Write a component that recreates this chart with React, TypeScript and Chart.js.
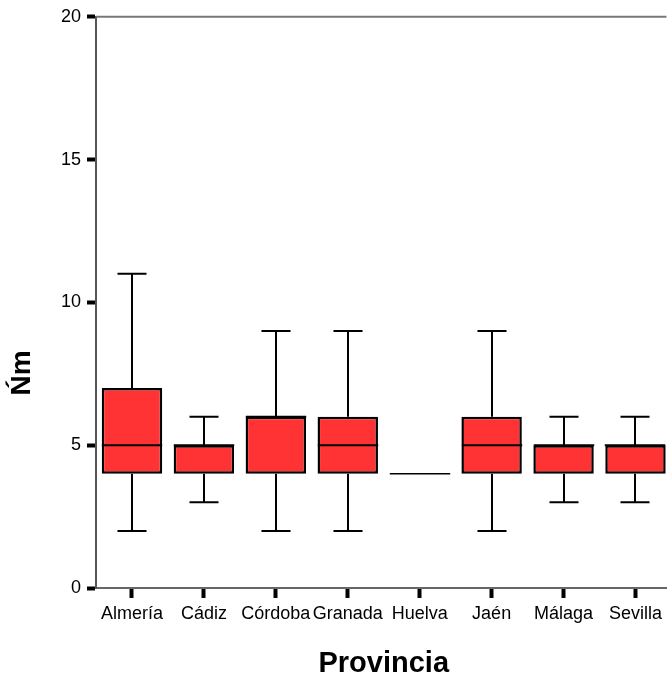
import React, { useEffect, useRef } from 'react';
import { Chart, registerables } from 'chart.js';

Chart.register(...registerables);

const provinces = ['Almería', 'Cádiz', 'Córdoba', 'Granada', 'Huelva', 'Jaén', 'Málaga', 'Sevilla'];
const whiskerLow = [2, 3, 2, 2, 4, 2, 3, 3];
const q1 = [4, 4, 4, 4, 4, 4, 4, 4];
const median = [5, 5, 6, 5, 4, 5, 5, 5];
const q3 = [7, 5, 6, 6, 4, 6, 5, 5];
const whiskerHigh = [11, 6, 9, 9, 4, 9, 6, 6];
const yTicks = [0, 5, 10, 15, 20];
const xTitle = 'Provincia';
const yTitle = 'Ńm';

const FONT = '"Liberation Sans", Arial, Helvetica, sans-serif';

const boxPlugin = {
  id: 'boxExtras',
  afterDatasetsDraw(chart: any) {
    const { ctx } = chart;
    const x = chart.scales.x;
    const y = chart.scales.y;
    const meta = chart.getDatasetMeta(0);
    ctx.save();
    ctx.strokeStyle = '#000';
    ctx.lineCap = 'butt';
    provinces.forEach((_, i) => {
      const cx = Math.round(x.getPixelForValue(i));
      const bar: any = meta.data[i];
      const half = (bar && bar.width ? bar.width : 60) / 2;
      const capHalf = half * 0.48;
      ctx.lineWidth = 2;
      const yq1 = y.getPixelForValue(q1[i]);
      const yq3 = y.getPixelForValue(q3[i]);
      const yLo = y.getPixelForValue(whiskerLow[i]);
      const yHi = y.getPixelForValue(whiskerHigh[i]);
      if (whiskerHigh[i] > q3[i]) {
        ctx.beginPath();
        ctx.moveTo(cx, yq3);
        ctx.lineTo(cx, yHi);
        ctx.moveTo(cx - capHalf, yHi);
        ctx.lineTo(cx + capHalf, yHi);
        ctx.stroke();
      }
      if (whiskerLow[i] < q1[i]) {
        ctx.beginPath();
        ctx.moveTo(cx, yq1);
        ctx.lineTo(cx, yLo);
        ctx.moveTo(cx - capHalf, yLo);
        ctx.lineTo(cx + capHalf, yLo);
        ctx.stroke();
      }
      ctx.lineWidth = q1[i] === q3[i] ? 1.5 : 2;
      const ym = y.getPixelForValue(median[i]);
      ctx.beginPath();
      ctx.moveTo(cx - half, ym);
      ctx.lineTo(cx + half, ym);
      ctx.stroke();
    });
    ctx.restore();
  },
  afterDraw(chart: any) {
    const { ctx, chartArea } = chart;
    const x = chart.scales.x;
    ctx.save();
    ctx.strokeStyle = '#777';
    ctx.lineWidth = 2;
    ctx.beginPath();
    ctx.moveTo(chartArea.left, chartArea.top);
    ctx.lineTo(chartArea.right, chartArea.top);
    ctx.stroke();
    ctx.fillStyle = '#000';
    ctx.font = 'bold 29px ' + FONT;
    ctx.textAlign = 'center';
    ctx.textBaseline = 'middle';
    const midX = (x.getPixelForValue(-0.5) + x.getPixelForValue(provinces.length - 0.5)) / 2;
    ctx.fillText(xTitle, midX, 664);
    ctx.font = 'bold 28px ' + FONT;
    ctx.translate(22, 373);
    ctx.rotate(-Math.PI / 2);
    ctx.fillText(yTitle, 0, 0);
    ctx.restore();
  },
};

export default function App() {
  const ref = useRef<HTMLCanvasElement>(null);
  useEffect(() => {
    if (!ref.current) return;
    const chart = new Chart(ref.current, {
      type: 'bar',
      data: {
        datasets: [
          {
            data: provinces.map((_, i) => ({ x: i, y: [q1[i], q3[i]] })) as any,
            backgroundColor: '#FF3333',
            borderColor: '#000',
            borderWidth: 2.5,
            borderSkipped: false,
            barPercentage: 1,
            categoryPercentage: 0.84,
          },
        ],
      },
      options: {
        animation: false,
        responsive: false,
        devicePixelRatio: 1,
        layout: { padding: { top: 15, right: 0, left: 0, bottom: 0 } },
        plugins: { legend: { display: false }, tooltip: { enabled: false } },
        scales: {
          x: {
            type: 'linear',
            offset: false,
            min: -0.5,
            max: -0.5 + 571 / 72,
            afterBuildTicks: (scale: any) => {
              scale.ticks = provinces.map((_, i) => ({ value: i }));
            },
            afterFit: (scale: any) => {
              scale.height = 91;
            },
            ticks: {
              autoSkip: false,
              maxRotation: 0,
              color: '#000',
              padding: 5,
              font: { family: FONT, size: 18 },
              callback: (v: any) => provinces[v] ?? '',
            },
            grid: {
              display: true,
              offset: false,
              drawOnChartArea: false,
              tickLength: 10,
              tickWidth: 4,
              tickColor: '#000',
            },
            border: { display: true, color: '#666', width: 2 },
          },
          y: {
            min: 0,
            max: 20,
            afterBuildTicks: (scale: any) => {
              scale.ticks = yTicks.map((v) => ({ value: v }));
            },
            afterFit: (scale: any) => {
              scale.width = 96;
            },
            ticks: {
              color: '#000',
              padding: 6,
              font: { family: FONT, size: 18 },
            },
            grid: {
              display: true,
              drawOnChartArea: false,
              tickLength: 9,
              tickWidth: 4,
              tickColor: '#000',
            },
            border: { display: true, color: '#555', width: 2 },
          },
        },
      },
      plugins: [boxPlugin],
    } as any);
    return () => chart.destroy();
  }, []);
  return (
    <div style={{ position: 'absolute', left: 0, top: 0, width: 667, height: 679, background: '#fff' }}>
      <canvas ref={ref} width={667} height={679} style={{ display: 'block' }} />
    </div>
  );
}
